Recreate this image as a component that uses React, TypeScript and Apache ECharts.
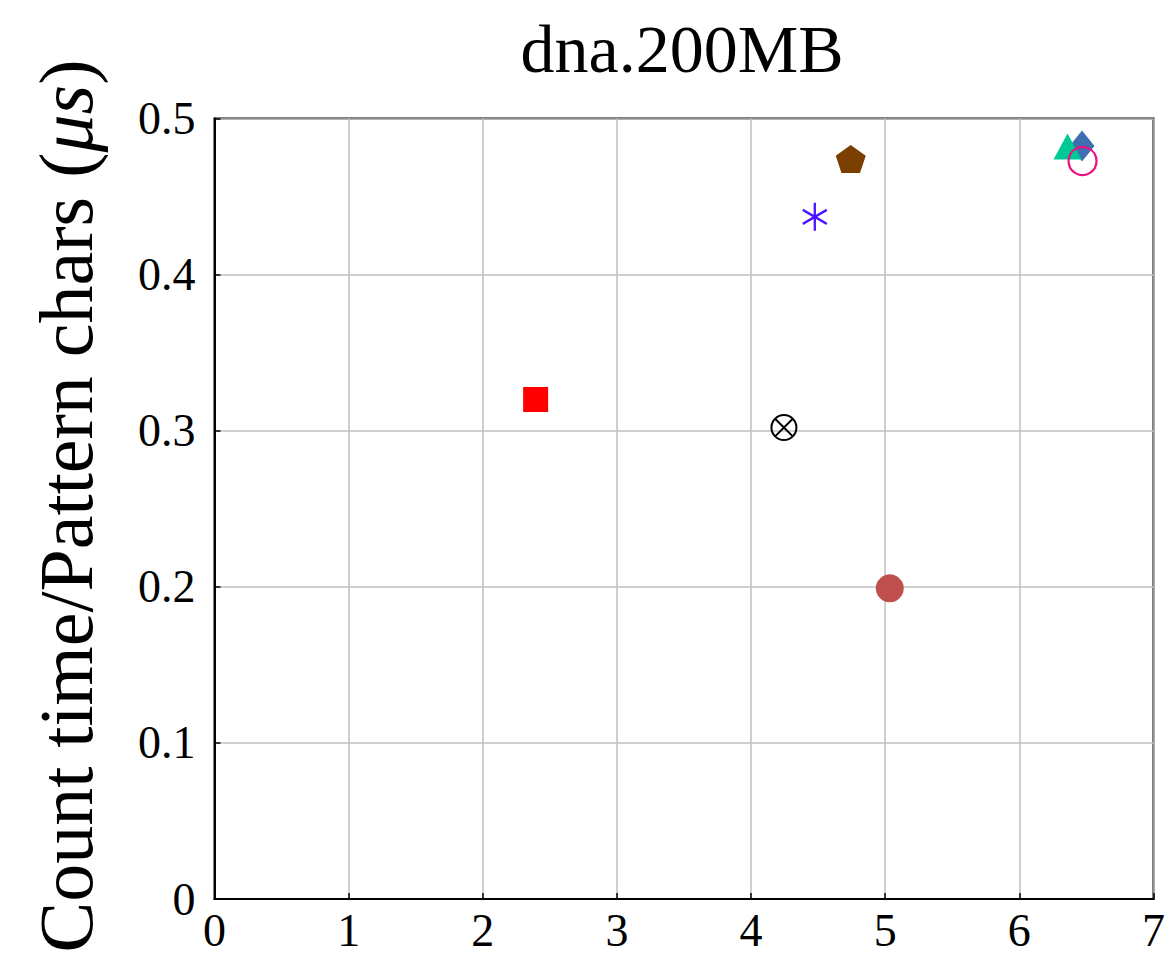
import React, { useEffect, useRef } from "react";
import * as echarts from "echarts";

const seriesNames = ["A", "B", "C", "D", "E", "F", "G", "H"];
const xValues = [2.394, 4.245, 4.475, 4.743, 5.034, 6.467, 6.359, 6.471];
const yValues = [0.32, 0.302, 0.437, 0.474, 0.199, 0.4824, 0.482, 0.4728];
const xTicks = [0, 1, 2, 3, 4, 5, 6, 7];
const yTicks = [0, 0.1, 0.2, 0.3, 0.4, 0.5];

const OTIMES =
  "path://M0,-10 A10,10 0 1 1 0,10 A10,10 0 1 1 0,-10 Z M-7.07,-7.07 L7.07,7.07 M7.07,-7.07 L-7.07,7.07";
const ASTERISK = "path://M0,-10 L0,10 M-8.66,-5 L8.66,5 M-8.66,5 L8.66,-5";
const PENTAGON =
  "path://M0,-10 L9.51,-3.09 L5.88,8.09 L-5.88,8.09 L-9.51,-3.09 Z";

const markerStyles: any[] = [
  { symbol: "rect", symbolSize: 25, itemStyle: { color: "#ff0000" } },
  {
    symbol: OTIMES,
    symbolSize: 25,
    itemStyle: { color: "transparent", borderColor: "#000000", borderWidth: 2 },
  },
  {
    symbol: ASTERISK,
    symbolSize: [24, 28],
    itemStyle: { color: "transparent", borderColor: "#4a14ff", borderWidth: 2.5 },
  },
  { symbol: PENTAGON, symbolSize: [30, 28], itemStyle: { color: "#7b3f00" } },
  { symbol: "circle", symbolSize: 28, itemStyle: { color: "#c0504d" } },
  { symbol: "diamond", symbolSize: [25, 31], itemStyle: { color: "#3f6fb0" } },
  { symbol: "triangle", symbolSize: [28, 26], itemStyle: { color: "#00c896" } },
  {
    symbol: "circle",
    symbolSize: 28,
    itemStyle: { color: "transparent", borderColor: "#ee1080", borderWidth: 2.2 },
  },
];

export default function App() {
  const ref = useRef<HTMLDivElement>(null);
  useEffect(() => {
    if (!ref.current) return;
    const chart = echarts.init(ref.current, undefined, { renderer: "svg" });
    const font = "'Liberation Serif', 'DejaVu Serif', serif";
    chart.setOption({
      animation: false,
      backgroundColor: "#ffffff",
      textStyle: { fontFamily: font },
      title: {
        text: "dna.200MB",
        left: 677,
        textAlign: "center",
        top: 10,
        textStyle: { fontFamily: font, fontSize: 68, color: "#000", fontWeight: "normal" },
      },
      graphic: [
        {
          type: "text",
          x: 66,
          y: 506,
          rotation: Math.PI / 2,
          style: {
            text: "{n|Count time/Pattern chars (}{i|μs}{n|)}",
            fontSize: 76,
            fontFamily: font,
            fill: "#000",
            align: "center",
            verticalAlign: "middle",
            rich: {
              n: { fontSize: 76, fontFamily: font, fill: "#000" },
              i: { fontSize: 76, fontStyle: "italic", fontFamily: font, fill: "#000" },
            },
          },
        },
      ],
      grid: {
        left: 214.5,
        right: 13,
        top: 118.5,
        bottom: 66,
        show: true,
        borderColor: "#000",
        borderWidth: 2,
        backgroundColor: "transparent",
      },
      xAxis: {
        type: "value",
        min: xTicks[0],
        max: xTicks[xTicks.length - 1],
        interval: 1,
        axisLine: { show: true, lineStyle: { color: "#000", width: 2 } },
        axisTick: { show: true, inside: true, length: 6, lineStyle: { color: "#000", width: 1.5 } },
        splitLine: { show: true, lineStyle: { color: "#c0c0c0", width: 1.5 } },
        axisLabel: { fontSize: 46, color: "#000", margin: 8, fontFamily: font },
      },
      yAxis: {
        type: "value",
        min: yTicks[0],
        max: yTicks[yTicks.length - 1],
        interval: 0.1,
        axisLine: { show: true, lineStyle: { color: "#000", width: 2 } },
        axisTick: { show: true, inside: true, length: 6, lineStyle: { color: "#000", width: 1.5 } },
        splitLine: { show: true, lineStyle: { color: "#c0c0c0", width: 1.5 } },
        axisLabel: {
          fontSize: 46,
          color: "#000",
          margin: 19,
          fontFamily: font,
          formatter: (v: number) => (v === 0 ? "0" : v.toFixed(1)),
        },
      },
      series: seriesNames.map((n, i) => ({
        name: n,
        type: "scatter",
        data: [[xValues[i], yValues[i]]],
        symbol: markerStyles[i].symbol,
        symbolSize: markerStyles[i].symbolSize,
        itemStyle: { ...markerStyles[i].itemStyle, opacity: 1 },
        z: 10 + i,
      })),
    });
    return () => chart.dispose();
  }, []);
  return <div ref={ref} style={{ width: 1168, height: 965, position: "absolute", left: 0, top: 0 }} />;
}
